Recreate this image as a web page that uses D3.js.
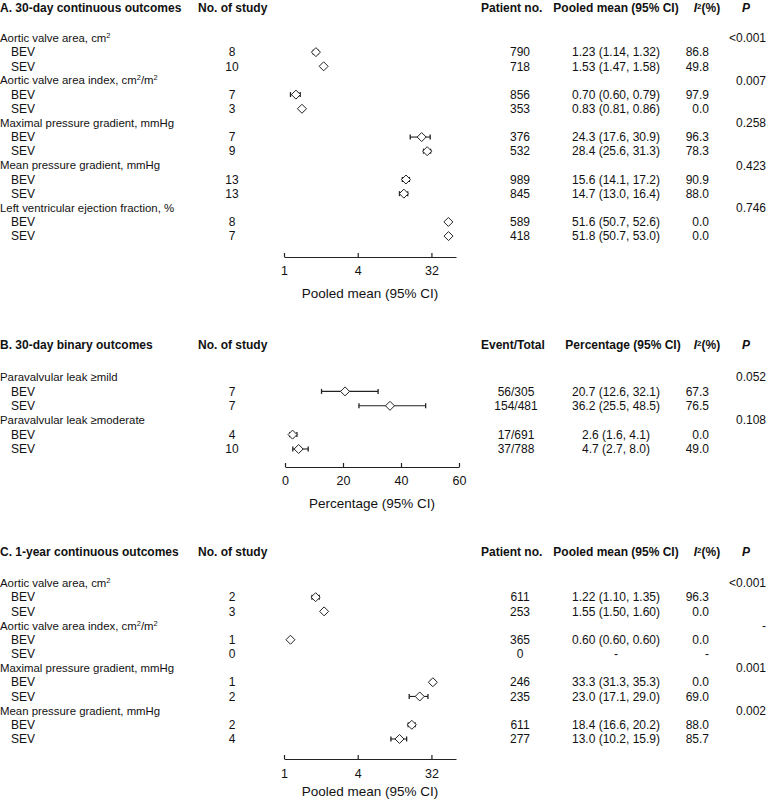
<!DOCTYPE html>
<html><head><meta charset="utf-8">
<script src="https://cdn.jsdelivr.net/npm/d3@7"></script>
<style>
html,body{margin:0;padding:0;background:#fff;}
svg{display:block;}
text{font-family:Arial,"Liberation Sans",sans-serif;fill:#111;}
</style></head>
<body><svg id="chart" width="767" height="801"></svg>
<script>
// ---------- DATA ----------
const armLabels = ["BEV", "SEV"];

// A. 30-day continuous outcomes
const groupsA = ["Aortic valve area, cm^2", "Aortic valve area index, cm^2/m^2", "Maximal pressure gradient, mmHg", "Mean pressure gradient, mmHg", "Left ventricular ejection fraction, %"];
const decimalsA = [2, 2, 1, 1, 1];
const nStudyA = [8, 10, 7, 3, 7, 9, 13, 13, 8, 7];
const patientsA = [790, 718, 856, 353, 376, 532, 989, 845, 589, 418];
const meanA = [1.23, 1.53, 0.70, 0.83, 24.3, 28.4, 15.6, 14.7, 51.6, 51.8];
const lowA = [1.14, 1.47, 0.60, 0.81, 17.6, 25.6, 14.1, 13.0, 50.7, 50.7];
const highA = [1.32, 1.58, 0.79, 0.86, 30.9, 31.3, 17.2, 16.4, 52.6, 53.0];
const i2A = [86.8, 49.8, 97.9, 0.0, 96.3, 78.3, 90.9, 88.0, 0.0, 0.0];
const pA = ["<0.001", "0.007", "0.258", "0.423", "0.746"];

// B. 30-day binary outcomes
const groupsB = ["Paravalvular leak \u2265mild", "Paravalvular leak \u2265moderate"];
const decimalsB = [1, 1];
const nStudyB = [7, 7, 4, 10];
const eventsB = [56, 154, 17, 37];
const totalsB = [305, 481, 691, 788];
const pctB = [20.7, 36.2, 2.6, 4.7];
const lowB = [12.6, 25.5, 1.6, 2.7];
const highB = [32.1, 48.5, 4.1, 8.0];
const i2B = [67.3, 76.5, 0.0, 49.0];
const pB = ["0.052", "0.108"];

// C. 1-year continuous outcomes
const groupsC = ["Aortic valve area, cm^2", "Aortic valve area index, cm^2/m^2", "Maximal pressure gradient, mmHg", "Mean pressure gradient, mmHg"];
const decimalsC = [2, 2, 1, 1];
const nStudyC = [2, 3, 1, 0, 1, 2, 2, 4];
const patientsC = [611, 253, 365, 0, 246, 235, 611, 277];
const meanC = [1.22, 1.55, 0.60, null, 33.3, 23.0, 18.4, 13.0];
const lowC = [1.10, 1.50, 0.60, null, 31.3, 17.1, 16.6, 10.2];
const highC = [1.35, 1.60, 0.60, null, 35.3, 29.0, 20.2, 15.9];
const i2C = [96.3, 0.0, 0.0, null, 0.0, 69.0, 88.0, 85.7];
const pC = ["<0.001", "-", "0.001", "0.002"];

// Axes
const logTickValues = [0.5, 4, 32];
const logTickLabels = ["1", "4", "32"];
const logDomain = [0.5, 64];
const linTickValues = [0, 20, 40, 60];
const linDomain = [0, 60];

// ---------- DRAW ----------
const svg = d3.select("#chart");
const INK = "#222";

function richText(sel, str) {
  const parts = str.split(/(\^\d)/);
  parts.forEach(p => {
    if (!p) return;
    if (p[0] === "^") {
      sel.append("tspan").attr("baseline-shift", "super").attr("font-size", "0.65em").text(p.slice(1));
    } else {
      sel.append("tspan").text(p);
    }
  });
}

function drawSection(cfg) {
  const g = svg.append("g");
  const ty = cfg.titleY;
  g.append("text").attr("x", 0).attr("y", ty).attr("dy", "0.35em")
    .attr("font-weight", "bold").attr("font-size", 12).text(cfg.title);
  g.append("text").attr("x", 198).attr("y", ty).attr("dy", "0.35em")
    .attr("font-weight", "bold").attr("font-size", 12).text("No. of study");
  g.append("text").attr("x", 481).attr("y", ty).attr("dy", "0.35em")
    .attr("font-weight", "bold").attr("font-size", 12).text(cfg.col2Header);
  g.append("text").attr("x", cfg.col3HeaderX).attr("y", ty).attr("dy", "0.35em")
    .attr("text-anchor", "middle").attr("font-weight", "bold").attr("font-size", 12).text(cfg.col3Header);
  const i2h = g.append("text").attr("x", 707).attr("y", ty).attr("dy", "0.35em")
    .attr("text-anchor", "middle").attr("font-weight", "bold").attr("font-size", 12);
  i2h.append("tspan").attr("font-style", "italic").text("I");
  i2h.append("tspan").attr("dy", -3.5).attr("font-size", 8).text("2");
  i2h.append("tspan").attr("dy", 3.5).text("(%)");
  g.append("text").attr("x", 746).attr("y", ty).attr("dy", "0.35em")
    .attr("text-anchor", "middle").attr("font-weight", "bold").attr("font-style", "italic").attr("font-size", 12).text("P");

  const x = cfg.scale;
  const rowY = i => cfg.firstRowY + i * cfg.step;
  const fmt1 = d3.format(".1f");

  cfg.groups.forEach((grp, gi) => {
    const gy = rowY(gi * 3);
    const lt = g.append("text").attr("x", 0).attr("y", gy).attr("dy", "0.35em")
      .attr("font-family", "Lato, 'Noto Sans', sans-serif").attr("font-size", 11.4);
    richText(lt, grp);
    g.append("text").attr("x", 766).attr("y", gy).attr("dy", "0.35em")
      .attr("text-anchor", "end").attr("font-size", 12).text(cfg.p[gi]);

    armLabels.forEach((arm, ai) => {
      const k = gi * 2 + ai;
      const y = rowY(gi * 3 + 1 + ai);
      const f = d3.format("." + cfg.decimals[gi] + "f");
      g.append("text").attr("x", 11).attr("y", y).attr("dy", "0.35em").attr("font-size", 12).text(arm);
      g.append("text").attr("x", 232).attr("y", y).attr("dy", "0.35em").attr("text-anchor", "middle")
        .attr("font-size", 12).text(cfg.nStudy[k]);
      g.append("text").attr("x", cfg.col2X).attr("y", y).attr("dy", "0.35em").attr("text-anchor", "middle")
        .attr("font-size", 12).text(cfg.col2Text(k));
      const m = cfg.mean[k];
      g.append("text").attr("x", 616).attr("y", y).attr("dy", "0.35em").attr("text-anchor", "middle")
        .attr("font-size", 12)
        .text(m == null ? "-" : `${f(m)} (${f(cfg.low[k])}, ${f(cfg.high[k])})`);
      g.append("text").attr("x", 709).attr("y", y).attr("dy", "0.35em").attr("text-anchor", "end")
        .attr("font-size", 12).text(cfg.i2[k] == null ? "-" : fmt1(cfg.i2[k]));

      if (m != null) {
        const x0 = x(cfg.low[k]), x1 = x(cfg.high[k]), xm = x(m);
        g.append("line").attr("x1", x0).attr("x2", x1).attr("y1", y).attr("y2", y)
          .attr("stroke", INK).attr("stroke-width", 1.1);
        [x0, x1].forEach(xx => g.append("line").attr("x1", xx).attr("x2", xx)
          .attr("y1", y - 2.5).attr("y2", y + 2.5).attr("stroke", INK).attr("stroke-width", 1.3));
        const hw = 4.5, hh = 4.5;
        g.append("path")
          .attr("d", `M${xm - hw},${y}L${xm},${y - hh}L${xm + hw},${y}L${xm},${y + hh}Z`)
          .attr("fill", "#fff").attr("stroke", INK).attr("stroke-width", 1);
      }
    });
  });

  const axis = d3.axisBottom(x).tickValues(cfg.tickValues)
    .tickFormat((d, i) => cfg.tickLabels[i])
    .tickSizeInner(-4).tickSizeOuter(0).tickPadding(cfg.tickPad);
  const ag = g.append("g").attr("transform", `translate(0,${cfg.axisY})`).call(axis);
  ag.select(".domain").attr("stroke", INK).attr("stroke-width", 1.2);
  ag.selectAll(".tick line").attr("stroke", INK).attr("stroke-width", 1.2);
  ag.selectAll(".tick text").attr("font-size", 12.5).attr("fill", "#111")
    .attr("font-family", "Arial, 'Liberation Sans', sans-serif");
  const r = x.range();
  g.append("text").attr("x", (r[0] + r[1]) / 2).attr("y", cfg.axisY + cfg.titleOff).attr("dy", "0.35em")
    .attr("text-anchor", "middle").attr("font-size", 13.5).text(cfg.axisTitle);
}

const xLogA = d3.scaleLog().domain(logDomain).range([284, 456]);
const xLin = d3.scaleLinear().domain(linDomain).range([285, 459]);
const xLogC = d3.scaleLog().domain(logDomain).range([284, 456]);

drawSection({
  title: "A. 30-day continuous outcomes", titleY: 8, firstRowY: 38, step: 14.15, axisY: 257,
  tickPad: 9, titleOff: 36,
  col2Header: "Patient no.", col2X: 520, col3Header: "Pooled mean (95% CI)", col3HeaderX: 616,
  groups: groupsA, decimals: decimalsA, nStudy: nStudyA, col2Text: k => patientsA[k],
  mean: meanA, low: lowA, high: highA, i2: i2A, p: pA,
  scale: xLogA, tickValues: logTickValues, tickLabels: logTickLabels, axisTitle: "Pooled mean (95% CI)"
});
drawSection({
  title: "B. 30-day binary outcomes", titleY: 345, firstRowY: 377, step: 14.4, axisY: 467,
  tickPad: 9, titleOff: 36,
  col2Header: "Event/Total", col2X: 516, col3Header: "Percentage (95% CI)", col3HeaderX: 623,
  groups: groupsB, decimals: decimalsB, nStudy: nStudyB, col2Text: k => `${eventsB[k]}/${totalsB[k]}`,
  mean: pctB, low: lowB, high: highB, i2: i2B, p: pB,
  scale: xLin, tickValues: linTickValues, tickLabels: linTickValues.map(String), axisTitle: "Percentage (95% CI)"
});
drawSection({
  title: "C. 1-year continuous outcomes", titleY: 552, firstRowY: 583, step: 14.18, axisY: 759,
  tickPad: 10, titleOff: 32,
  col2Header: "Patient no.", col2X: 520, col3Header: "Pooled mean (95% CI)", col3HeaderX: 616,
  groups: groupsC, decimals: decimalsC, nStudy: nStudyC, col2Text: k => patientsC[k],
  mean: meanC, low: lowC, high: highC, i2: i2C, p: pC,
  scale: xLogC, tickValues: logTickValues, tickLabels: logTickLabels, axisTitle: "Pooled mean (95% CI)"
});
</script></body></html>
